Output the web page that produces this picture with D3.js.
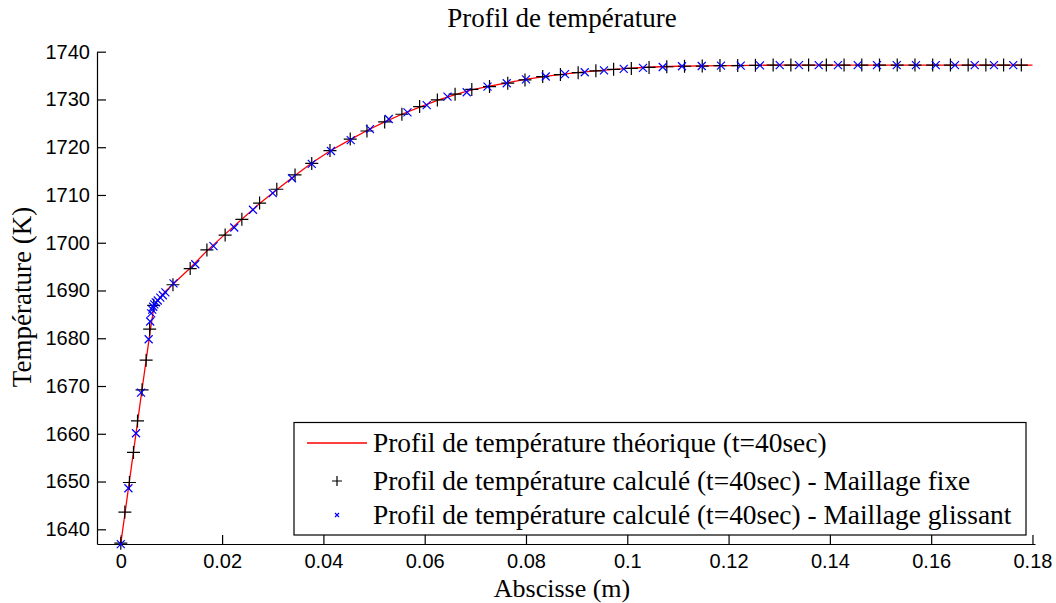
<!DOCTYPE html>
<html><head><meta charset="utf-8">
<script src="https://cdn.jsdelivr.net/npm/d3@7"></script>
<style>
html,body{margin:0;padding:0;background:#fff;}
svg{display:block;}
.serif{font-family:"Liberation Serif","Times New Roman",serif;}
.tick text{font-family:"Liberation Sans",Arial,sans-serif;font-size:20px;fill:#000;}
</style></head>
<body>
<svg id="c" width="1056" height="603"></svg>
<script>
const title = "Profil de température";
const xLabel = "Abscisse (m)";
const yLabel = "Température (K)";
const legendLabels = [
  "Profil de température théorique (t=40sec)",
  "Profil de température calculé (t=40sec) - Maillage fixe",
  "Profil de température calculé (t=40sec) - Maillage glissant"
];
const xTicks = [0, 0.02, 0.04, 0.06, 0.08, 0.1, 0.12, 0.14, 0.16, 0.18];
const yTicks = [1640, 1650, 1660, 1670, 1680, 1690, 1700, 1710, 1720, 1730, 1740];

// Theoretical profile
const theoX = [0, 0.001, 0.002, 0.003, 0.004, 0.005, 0.0058, 0.0066, 0.0075, 0.0088, 0.0103, 0.0137, 0.017, 0.0206, 0.024, 0.0274, 0.0308, 0.0344, 0.0377, 0.0413, 0.0453, 0.0486, 0.0521, 0.0555, 0.059, 0.0625, 0.066, 0.0693, 0.0728, 0.0764, 0.0798, 0.085, 0.09, 0.095, 0.1, 0.105, 0.11, 0.115, 0.12, 0.125, 0.13, 0.14, 0.15, 0.16, 0.17, 0.18];
const theoT = [1637, 1644.7, 1652.4, 1660.1, 1667.8, 1675.4, 1681.5, 1687, 1688.3, 1689.8, 1691.3, 1694.7, 1698.3, 1701.8, 1705, 1708.2, 1711.1, 1714.1, 1716.7, 1719.2, 1721.6, 1723.5, 1725.3, 1726.9, 1728.4, 1729.8, 1731, 1732, 1732.8, 1733.5, 1734.2, 1735.0, 1735.6, 1736.1, 1736.5, 1736.8, 1736.95, 1737.05, 1737.1, 1737.15, 1737.2, 1737.2, 1737.2, 1737.2, 1737.2, 1737.2];

// Fixed mesh
const fixedX = [0, 0.0008, 0.0017, 0.0025, 0.0033, 0.0042, 0.005, 0.0057, 0.0065,
  0.0103, 0.0137, 0.017, 0.0206, 0.0239, 0.0274, 0.0308, 0.0344, 0.0377, 0.0413, 0.0453, 0.0486, 0.0521, 0.0555, 0.059, 0.0625, 0.066, 0.0693, 0.0728, 0.0764, 0.0798,
  0.0833, 0.0868, 0.0903, 0.0938, 0.0973, 0.1008, 0.1043, 0.1078, 0.1113, 0.1148, 0.1183, 0.1218, 0.1253, 0.1288, 0.1323, 0.1358, 0.1393, 0.1428, 0.1463, 0.1498, 0.1533, 0.1568, 0.1603, 0.1638, 0.1673, 0.1708, 0.1743, 0.1778];
const fixedT = [1637.1, 1643.6, 1649.8, 1656.1, 1662.7, 1669.2, 1675.4, 1681.9, 1686.9,
  1691.2, 1694.6, 1698.5, 1701.6, 1704.9, 1708.3, 1711.2, 1714.2, 1716.6, 1719.3, 1721.7, 1723.4, 1725.3, 1726.9, 1728.5, 1729.9, 1731.1, 1732.1, 1732.7, 1733.4, 1734.1,
  1734.8, 1735.2, 1735.6, 1736.0, 1736.3, 1736.5, 1736.7, 1736.85, 1736.95, 1737.0, 1737.1, 1737.1, 1737.15, 1737.2, 1737.2, 1737.2, 1737.2, 1737.2, 1737.2, 1737.2, 1737.2, 1737.2, 1737.2, 1737.2, 1737.2, 1737.2, 1737.2, 1737.2];

// Sliding mesh
const slideX = [0, 0.0015, 0.003, 0.004, 0.0055, 0.0058, 0.006, 0.0062, 0.0064, 0.0066, 0.0069, 0.0073, 0.0078, 0.0083, 0.0088,
  0.0104, 0.0147, 0.0183, 0.0224, 0.0261, 0.030, 0.0338, 0.0377, 0.0415, 0.0454, 0.0492, 0.0529, 0.0566, 0.0604, 0.0645, 0.0683, 0.0724, 0.0762,
  0.08, 0.0839, 0.0877, 0.0916, 0.0954, 0.0993, 0.1031, 0.107, 0.1108, 0.1147, 0.1185, 0.1224, 0.1262, 0.1301, 0.1339, 0.1378, 0.1416, 0.1455, 0.1493, 0.1532, 0.157, 0.1609, 0.1647, 0.1686, 0.1724, 0.1762];
const slideT = [1636.9, 1648.6, 1660.1, 1668.6, 1679.8, 1683.5, 1685.2, 1686.0, 1686.6, 1687.1, 1687.5, 1687.9, 1688.5, 1689.0, 1689.6,
  1691.5, 1695.5, 1699.3, 1703.2, 1706.9, 1710.4, 1713.5, 1716.5, 1719.2, 1721.5, 1723.8, 1725.9, 1727.3, 1728.8, 1730.6, 1731.5, 1732.7, 1733.4,
  1734.2, 1734.8, 1735.3, 1735.7, 1736.1, 1736.4, 1736.6, 1736.8, 1736.95, 1737.0, 1737.1, 1737.1, 1737.15, 1737.2, 1737.2, 1737.2, 1737.2, 1737.2, 1737.2, 1737.2, 1737.2, 1737.2, 1737.2, 1737.2, 1737.2, 1737.2];

const svg = d3.select("#c");
const x = d3.scaleLinear().domain([-0.0047, 0.1805]).range([97, 1035]);
const y = d3.scaleLinear().domain([1636.92, 1740]).range([544, 51.7]);

// axes
const gx = svg.append("g").attr("transform", "translate(0,544)")
  .call(d3.axisBottom(x).tickValues(xTicks).tickFormat(d => d3.format("")(+d.toFixed(2)))
    .tickSizeInner(-9).tickSizeOuter(0).tickPadding(10));
const gy = svg.append("g").attr("transform", "translate(97,0)")
  .call(d3.axisLeft(y).tickValues(yTicks).tickFormat(d3.format("d"))
    .tickSizeInner(-9).tickSizeOuter(0).tickPadding(7));
[gx, gy].forEach(g => {
  g.selectAll("path.domain").attr("stroke", "#000").attr("stroke-width", 1.2);
  g.selectAll(".tick line").attr("stroke", "#000").attr("stroke-width", 1.2);
});

// theoretical line
const line = d3.line().x((d, i) => x(theoX[i])).y((d, i) => y(theoT[i]));
svg.append("path").attr("d", line(theoX)).attr("fill", "none")
  .attr("stroke", "#ff0000").attr("stroke-width", 1.3);

// fixed mesh markers (+)
const plusSize = 6.5;
svg.append("g").selectAll("path").data(fixedX).join("path")
  .attr("d", (d, i) => {
    const cx = x(d), cy = y(fixedT[i]);
    return `M${cx - plusSize},${cy}H${cx + plusSize}M${cx},${cy - plusSize}V${cy + plusSize}`;
  })
  .attr("stroke", "#000").attr("stroke-width", 1.2).attr("fill", "none");

// sliding mesh markers (x)
const xs = 4;
svg.append("g").selectAll("path").data(slideX).join("path")
  .attr("d", (d, i) => {
    const cx = x(d), cy = y(slideT[i]);
    return `M${cx - xs},${cy - xs}L${cx + xs},${cy + xs}M${cx - xs},${cy + xs}L${cx + xs},${cy - xs}`;
  })
  .attr("stroke", "#0000ff").attr("stroke-width", 1.2).attr("fill", "none");

// legend
const lg = svg.append("g");
lg.append("rect").attr("x", 294).attr("y", 422.5).attr("width", 732).attr("height", 112.5)
  .attr("fill", "#fff").attr("stroke", "#000").attr("stroke-width", 1.2);
const rowY = [443, 481, 515];
lg.append("line").attr("x1", 307).attr("x2", 367).attr("y1", rowY[0]).attr("y2", rowY[0])
  .attr("stroke", "#ff0000").attr("stroke-width", 1.3);
lg.append("path").attr("d", `M${332},${rowY[1]}H${342}M${337},${rowY[1] - 5}V${rowY[1] + 5}`)
  .attr("stroke", "#000").attr("stroke-width", 1.2);
lg.append("path").attr("d", `M${335},${rowY[2] - 2}L${339},${rowY[2] + 2}M${335},${rowY[2] + 2}L${339},${rowY[2] - 2}`)
  .attr("stroke", "#0000ff").attr("stroke-width", 1.2);
legendLabels.forEach((t, i) => {
  lg.append("text").attr("class", "serif").attr("x", 373).attr("y", rowY[i] + 9)
    .attr("font-size", 27.4).attr("fill", "#000").text(t);
});

// titles
svg.append("text").attr("class", "serif").attr("x", 562).attr("y", 27)
  .attr("text-anchor", "middle").attr("font-size", 27).text(title);
svg.append("text").attr("class", "serif").attr("x", 562).attr("y", 597)
  .attr("text-anchor", "middle").attr("font-size", 26).text(xLabel);
svg.append("text").attr("class", "serif").attr("transform", "translate(31,297) rotate(-90)")
  .attr("text-anchor", "middle").attr("font-size", 27).text(yLabel);
</script>
</body></html>
